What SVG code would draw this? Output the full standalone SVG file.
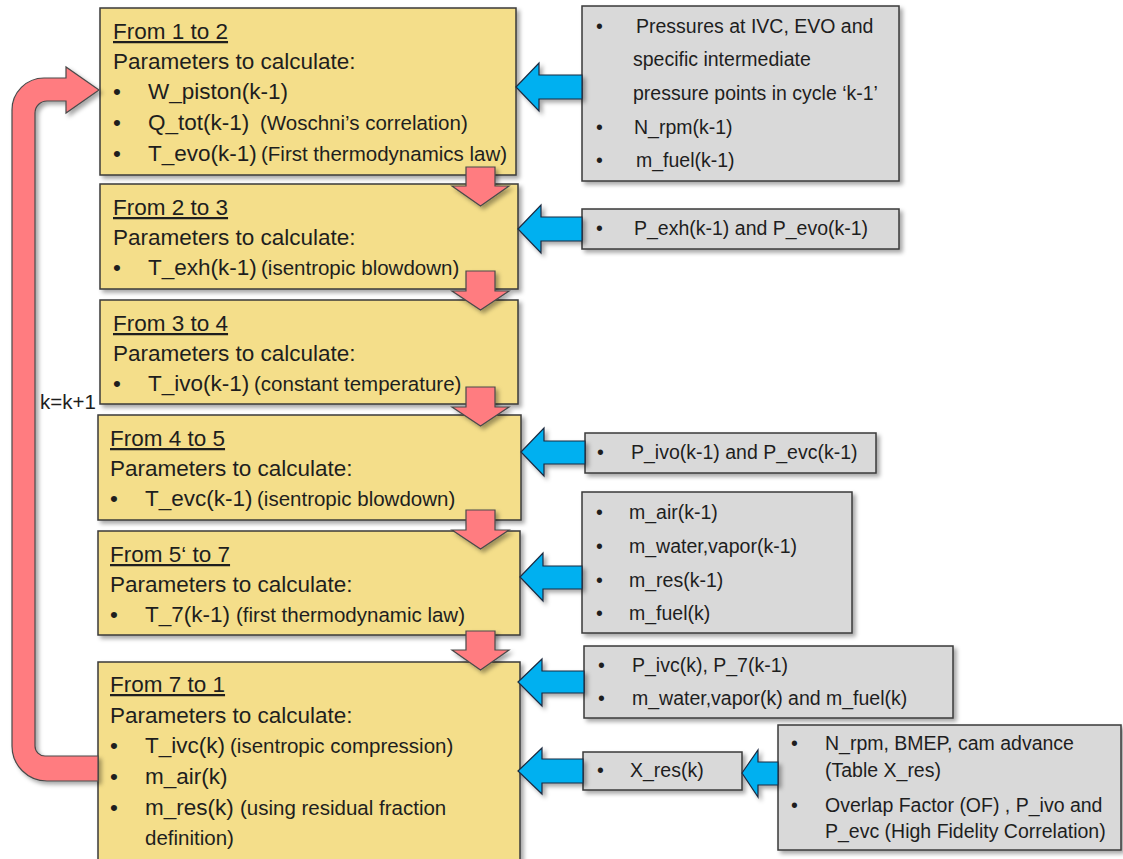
<svg xmlns="http://www.w3.org/2000/svg" width="1123" height="859" viewBox="0 0 1123 859">
<defs>
<filter id="sh" x="-10%" y="-10%" width="130%" height="130%">
<feDropShadow dx="3" dy="3" stdDeviation="2" flood-color="#000" flood-opacity="0.35"/>
</filter>
<style>
.yb{fill:#F4DE8A;stroke:#3a3a3a;stroke-width:1.5;filter:url(#sh)}
.gb{fill:#D9D9D9;stroke:#3a3a3a;stroke-width:1.5;filter:url(#sh)}
.red{fill:#FF7C80;stroke:#4a4a4a;stroke-width:1.2;filter:url(#sh)}
.blue{fill:#00B0F0;stroke:#1b2a40;stroke-width:1.2;filter:url(#sh)}
text{font-family:"Liberation Sans",Arial,sans-serif;fill:#1e1e1e}
.m{font-size:22.5px}
.p{font-size:20.5px}
.g{font-size:19.5px}
.h{font-size:22.5px;text-decoration:underline}
</style>
</defs>

<g id="box1">
<rect class="yb" x="100" y="8" width="416" height="167"/>
<text class="h" x="113" y="39">From 1 to 2</text>
<text class="m" x="113" y="69">Parameters to calculate:</text>
<text class="m" x="113" y="99">•</text><text class="m" x="148" y="99">W_piston(k-1)</text>
<text class="m" x="113" y="130">•</text><text class="m" x="148" y="130">Q_tot(k-1)</text><text class="p" x="260" y="130">(Woschni’s correlation)</text>
<text class="m" x="113" y="161">•</text><text class="m" x="148" y="161">T_evo(k-1)</text><text class="p" x="261" y="161">(First thermodynamics law)</text>
</g>

<g id="box2">
<rect class="yb" x="100" y="184" width="418" height="105"/>
<text class="h" x="113" y="215">From 2 to 3</text>
<text class="m" x="113" y="245">Parameters to calculate:</text>
<text class="m" x="113" y="275">•</text><text class="m" x="148" y="275">T_exh(k-1)</text><text class="p" x="261" y="275">(isentropic blowdown)</text>
</g>

<g id="box3">
<rect class="yb" x="100" y="300" width="418" height="104"/>
<text class="h" x="113" y="331">From 3 to 4</text>
<text class="m" x="113" y="361">Parameters to calculate:</text>
<text class="m" x="113" y="391">•</text><text class="m" x="148" y="391">T_ivo(k-1)</text><text class="p" x="254" y="391">(constant temperature)</text>
</g>

<g id="box4">
<rect class="yb" x="98" y="415" width="423" height="105"/>
<text class="h" x="110" y="446">From 4 to 5</text>
<text class="m" x="110" y="476">Parameters to calculate:</text>
<text class="m" x="110" y="506">•</text><text class="m" x="145" y="506">T_evc(k-1)</text><text class="p" x="257" y="506">(isentropic blowdown)</text>
</g>

<g id="box5">
<rect class="yb" x="98" y="531" width="422" height="104"/>
<text class="h" x="110" y="562">From 5‘ to 7</text>
<text class="m" x="110" y="592">Parameters to calculate:</text>
<text class="m" x="110" y="622">•</text><text class="m" x="145" y="622">T_7(k-1)</text><text class="p" x="236" y="622">(first thermodynamic law)</text>
</g>

<g id="box6">
<rect class="yb" x="98" y="662" width="422" height="210"/>
<text class="h" x="110" y="692">From 7 to 1</text>
<text class="m" x="110" y="723">Parameters to calculate:</text>
<text class="m" x="110" y="753">•</text><text class="m" x="145" y="753">T_ivc(k)</text><text class="p" x="230" y="753">(isentropic compression)</text>
<text class="m" x="110" y="784">•</text><text class="m" x="145" y="784">m_air(k)</text>
<text class="m" x="110" y="815">•</text><text class="m" x="145" y="815">m_res(k)</text><text class="p" x="240" y="815">(using residual fraction</text>
<text class="p" x="145" y="845">definition)</text>
</g>

<g id="inputs1">
<rect class="gb" x="582" y="6" width="317" height="175"/>
<text class="g" x="596" y="33">•</text><text class="g" x="636" y="33">Pressures at IVC, EVO and</text>
<text class="g" x="633" y="66">specific intermediate</text>
<text class="g" x="633" y="100">pressure points in cycle ‘k-1’</text>
<text class="g" x="596" y="134">•</text><text class="g" x="634" y="134">N_rpm(k-1)</text>
<text class="g" x="596" y="167">•</text><text class="g" x="636" y="167">m_fuel(k-1)</text>
</g>

<g id="inputs2">
<rect class="gb" x="582" y="209" width="317" height="40"/>
<text class="g" x="596" y="235">•</text><text class="g" x="634" y="235">P_exh(k-1) and P_evo(k-1)</text>
</g>

<g id="inputs4">
<rect class="gb" x="585" y="433" width="291" height="40"/>
<text class="g" x="597" y="459">•</text><text class="g" x="631" y="459">P_ivo(k-1) and P_evc(k-1)</text>
</g>

<g id="inputs5">
<rect class="gb" x="582" y="492" width="270" height="141"/>
<text class="g" x="596" y="519">•</text><text class="g" x="629" y="519">m_air(k-1)</text>
<text class="g" x="596" y="553">•</text><text class="g" x="629" y="553">m_water,vapor(k-1)</text>
<text class="g" x="596" y="587">•</text><text class="g" x="629" y="587">m_res(k-1)</text>
<text class="g" x="596" y="620">•</text><text class="g" x="629" y="620">m_fuel(k)</text>
</g>

<g id="inputs6a">
<rect class="gb" x="584" y="646" width="369" height="72"/>
<text class="g" x="598" y="672">•</text><text class="g" x="632" y="672">P_ivc(k), P_7(k-1)</text>
<text class="g" x="598" y="705">•</text><text class="g" x="632" y="705">m_water,vapor(k) and m_fuel(k)</text>
</g>

<g id="xres">
<rect class="gb" x="583" y="752" width="159" height="38"/>
<text class="g" x="597" y="777">•</text><text class="g" x="630" y="777">X_res(k)</text>
</g>

<g id="xres_sources">
<rect class="gb" x="778" y="725" width="343" height="125"/>
<text class="g" x="791" y="750">•</text><text class="g" x="825" y="750">N_rpm, BMEP, cam advance</text>
<text class="g" x="825" y="777">(Table X_res)</text>
<text class="g" x="791" y="812">•</text><text class="g" x="825" y="812">Overlap Factor (OF) , P_ivo and</text>
<text class="g" x="825" y="838">P_evc (High Fidelity Correlation)</text>
</g>

<g id="connectors">
<path class="red" d="M99 90 L66 67 L66 78 L44 78 A32 32 0 0 0 12 110 L12 746 A35 35 0 0 0 47 781 L98 781 L98 756 L45 756 A10 10 0 0 1 35 746 L35 113 A12 12 0 0 1 47 101 L66 101 L66 113 Z"/>
<text class="p" x="40" y="409">k=k+1</text>

<path class="red" d="M466 167 H495 V186 H509 L480.5 206 L452 186 H466 Z"/>
<path class="red" d="M466 271 H495 V291 H509 L480.5 310 L452 291 H466 Z"/>
<path class="red" d="M466 387 H495 V407 H509 L480.5 426 L452 407 H466 Z"/>
<path class="red" d="M466 510 H495 V530 H509 L480.5 549 L452 530 H466 Z"/>
<path class="red" d="M466 631 H495 V650 H509 L480.5 670 L452 650 H466 Z"/>

<path class="blue" d="M516 87 L539 63 V75 H582 V99 H539 V111 Z"/>
<path class="blue" d="M518 229 L541 205 V217 H582 V241 H541 V253 Z"/>
<path class="blue" d="M521 452 L544 428 V441 H585 V464 H544 V476 Z"/>
<path class="blue" d="M520 577 L543 553 V566 H582 V589 H543 V601 Z"/>
<path class="blue" d="M518 682 L542 659 V671 H584 V693 H542 V706 Z"/>
<path class="blue" d="M518 771 L542 748 V759 H583 V783 H542 V794 Z"/>
<path class="blue" d="M742 773 L758 750 V762 H778 V785 H758 V797 Z"/>
</g>
</svg>
